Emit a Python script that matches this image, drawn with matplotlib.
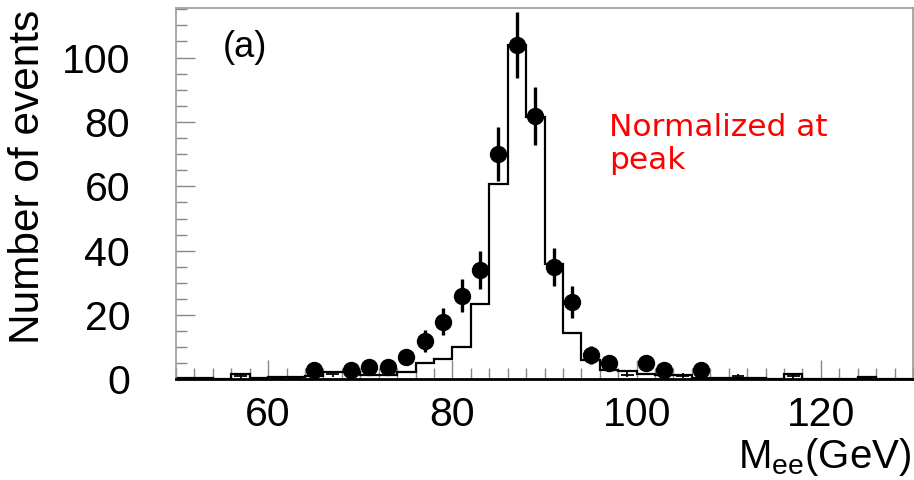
import matplotlib
matplotlib.use("Agg")
import matplotlib.pyplot as plt
from matplotlib.ticker import MultipleLocator
import numpy as np

plt.rcParams['font.family'] = ['Liberation Sans', 'DejaVu Sans']
plt.rcParams['mathtext.fontset'] = 'custom'
plt.rcParams['mathtext.rm'] = 'Liberation Sans'

# simulated histogram, 2 GeV bins from 50 to 130 GeV
bin_edges = np.arange(50, 131, 2)
mc_counts = [0.4, 0.6, 0.2, 1.6, 0.5, 0.7, 0.7, 1.2, 2.4, 2.4,
             1.4, 1.4, 2.3, 5.0, 6.5, 10.2, 23.3, 60.6, 104.0, 81.5,
             36.0, 14.3, 6.0, 3.0, 2.6, 1.6, 1.4, 1.5, 0.5, 0.6,
             0.6, 0.6, 0.3, 1.6, 0.3, 0.0, 0.0, 0.7, 0.0, 0.0]

# measured events (big dots)
data_mass = [65, 69, 71, 73, 75, 77, 79, 81, 83, 85, 87, 89, 91, 93, 95, 97, 101, 103, 107]
data_counts = [3, 3, 4, 4, 7, 12, 18, 26, 34, 70, 104, 82, 35, 24, 7.5, 5, 5, 3, 3]
data_err = [1.7, 1.7, 2.0, 2.0, 2.6, 3.5, 4.2, 5.1, 5.8, 8.4, 10.2, 9.0, 5.9, 4.9, 2.8, 2.2, 2.2, 1.7, 1.7]

# small crosses in the tails
cross_mass = [57, 61, 63, 67, 99, 105, 109, 111, 113, 117, 125]
cross_counts = [1.0, 0.5, 0.5, 1.6, 1.5, 1.2, 0.5, 1.0, 0.5, 1.0, 0.6]
cross_err = [0.8, 0.4, 0.4, 0.8, 0.8, 0.8, 0.4, 0.8, 0.4, 0.8, 0.4]

fig = plt.figure(figsize=(9.14, 4.80), dpi=100)
ax = fig.add_axes([0.1926, 0.2094, 0.8063, 0.7739])

ax.stairs(mc_counts, bin_edges, color='black', lw=1.6, zorder=2)
ax.errorbar(cross_mass, cross_counts, yerr=cross_err, xerr=0.7, fmt='none',
            ecolor='black', elinewidth=1.3, zorder=3)
ax.errorbar(data_mass, data_counts, yerr=data_err, fmt='o', color='black',
            markersize=11.5, elinewidth=2.4, capsize=0, zorder=4)

ax.set_xlim(50, 130)
ax.set_ylim(0, 115.4)
ax.xaxis.set_major_locator(MultipleLocator(20))
ax.xaxis.set_minor_locator(MultipleLocator(2))
ax.yaxis.set_major_locator(MultipleLocator(20))
ax.yaxis.set_minor_locator(MultipleLocator(5))

ax.tick_params(which='both', direction='in', top=False, right=False,
               color='#888888', width=1.0, labelsize=29.5)
ax.tick_params(which='major', length=14)
ax.tick_params(which='minor', length=8)
ax.tick_params(axis='x', pad=12)
ax.tick_params(axis='y', pad=33)

for side in ['left', 'top', 'right']:
    ax.spines[side].set_color('#999999')
    ax.spines[side].set_linewidth(1.2)
ax.spines['bottom'].set_color('black')
ax.spines['bottom'].set_linewidth(2.0)

ax.set_ylabel('Number of events', fontsize=30.5, va='center')
ax.yaxis.set_label_coords(-0.201, 0.546)
ax.set_xlabel(r'M$_{\mathrm{ee}}$(GeV)', fontsize=29, ha='right', va='baseline')
ax.xaxis.set_label_coords(0.998, -0.238)

ax.text(0.093, 0.895, '(a)', transform=ax.transAxes, fontsize=26,
        ha='center', va='center')
ax.text(0.588, 0.634, 'Normalized at\npeak', transform=ax.transAxes,
        fontsize=22.5, color='red', family='DejaVu Sans', ha='left', va='center',
        linespacing=1.15)

fig.savefig('out.png', dpi=100)
